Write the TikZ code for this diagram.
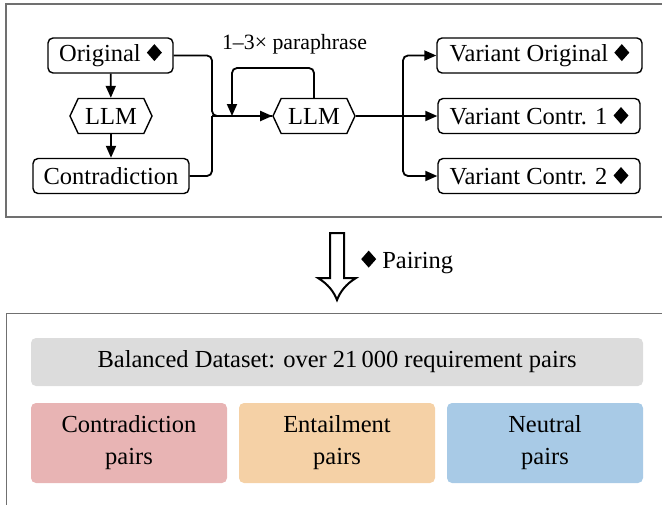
\documentclass[tikz,border=0pt]{standalone}
\usepackage{fontspec}
\setmainfont{Liberation Serif}
\usetikzlibrary{arrows.meta,shapes.symbols}
\definecolor{framec}{RGB}{112,112,112}
\definecolor{graybox}{RGB}{220,220,220}
\definecolor{pinkbox}{RGB}{232,180,180}
\definecolor{orangebox}{RGB}{245,209,166}
\definecolor{bluebox}{RGB}{168,202,230}
\newcommand\dmd{\tikz[baseline={(0,-0.5pt)},x=1pt,y=1pt,sharp corners]\fill[black,sharp corners] (0,0)--(7.5,8.5)--(0,17)--(-7.5,8.5)--cycle;}
\begin{document}
\begin{tikzpicture}[x=1pt,y=-1pt,
  box/.style={draw, line width=1.4pt, rounded corners=5pt, minimum height=35pt, inner sep=0pt, fill=white, font=\fontsize{24.5}{28}\selectfont},
  llm/.style={draw, line width=1.4pt, signal, signal to=east and west, signal pointer angle=130, minimum height=35pt, minimum width=82pt, inner sep=0pt, fill=white, font=\fontsize{24.5}{28}\selectfont},
  conn/.style={line width=1.8pt, rounded corners=5pt},
  arr/.style={conn, -{Triangle[length=12pt,width=10pt]}},
  frame/.style={draw=framec, line width=1.6pt},
  pairbox/.style={rounded corners=5pt, minimum width=196pt, minimum height=80pt, inner sep=0pt, align=center, font=\fontsize{24.5}{32}\selectfont},
  lbl/.style={inner sep=0pt, font=\fontsize{24.5}{28}\selectfont}]
\useasboundingbox (0,0) rectangle (662,504);
% frames
\draw[frame] (670,4) -- (6,4) -- (6,217) -- (670,217);
\draw[frame] (670,313.5) -- (6.5,313.5) -- (6.5,510);
% top nodes
\node[box, minimum width=125pt] (orig) at (110.5,55.5) {Original \dmd};
\node[llm] (llmA) at (111,116) {LLM};
\node[box, minimum width=156pt] (contr) at (111,176) {Contradiction};
\node[llm] (llmB) at (314,116) {LLM};
\node[box, minimum width=205pt] (vo) at (539.5,55.5) {Variant Original \dmd};
\node[box, minimum width=202pt] (v1) at (539,116) {Variant Contr. 1 \dmd};
\node[box, minimum width=202pt] (v2) at (539,176) {Variant Contr. 2 \dmd};
\node[inner sep=0pt, font=\fontsize{21.8}{26}\selectfont] (para) at (294.5,44) {1–3× paraphrase};
\coordinate (join) at (212,116);
\coordinate (split) at (403,116);
\coordinate (loopin) at (232,116);
% connectors
\draw[arr] (orig) -- (llmA);
\draw[arr] (llmA) -- (contr);
\draw[conn] (orig.east) -| (join) -- (llmB.west);
\draw[conn] (contr.east) -| (join);
\draw[arr] (join) -- (llmB.west);
\draw[arr] (llmB.north) |- (272,68) -| (loopin);
\draw[conn] (llmB.east) -- (split);
\draw[arr] (split) |- (vo.west);
\draw[arr] (split) -- (v1.west);
\draw[arr] (split) |- (v2.west);
% pairing arrow
\draw[line width=2pt, line join=miter, fill=white] (330,233) -- (344,233) -- (344,278) -- (356,278)
  .. controls (346,284) and (340,292) .. (337,300)
  .. controls (334,292) and (328,284) .. (318,278) -- (330,278) -- cycle;
\node[lbl, anchor=west] (pairing) at (361,262) {\dmd\ Pairing};
% bottom boxes
\node[pairbox, fill=graybox, minimum width=612pt, minimum height=48pt] (bal) at (337,362) {Balanced Dataset: over 21\,000 requirement pairs};
\node[pairbox, fill=pinkbox] (cp) at (129,443) {Contradiction\\pairs};
\node[pairbox, fill=orangebox] (ep) at (337,443) {Entailment\\pairs};
\node[pairbox, fill=bluebox] (np) at (545,443) {Neutral\\pairs};
\end{tikzpicture}
\end{document}
